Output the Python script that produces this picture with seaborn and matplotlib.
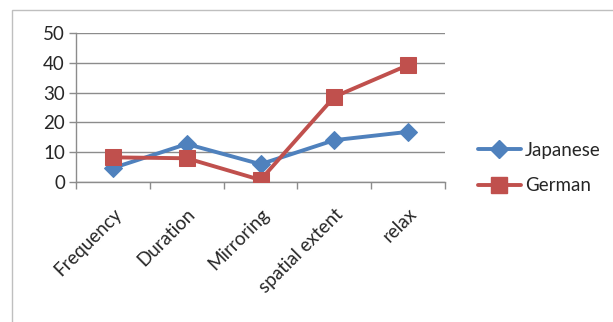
import matplotlib
matplotlib.use("Agg")
import matplotlib.pyplot as plt
import seaborn as sns
import pandas as pd
from matplotlib.patches import Rectangle
from matplotlib.lines import Line2D
from matplotlib.transforms import ScaledTranslation

categories = ["Frequency", "Duration", "Mirroring", "spatial extent", "relax"]
japanese = [4.6, 12.7, 5.9, 14.0, 16.8]
german = [8.2, 7.9, 0.6, 28.6, 39.3]
series_names = ["Japanese", "German"]
y_ticks = [0, 10, 20, 30, 40, 50]

colors = {"Japanese": "#4F81BD", "German": "#C0504D"}
markers = {"Japanese": "D", "German": "s"}
msize = {"Japanese": 9.5, "German": 11}

df = pd.DataFrame({
    "category": categories * 2,
    "pos": list(range(len(categories))) * 2,
    "value": japanese + german,
    "series": ["Japanese"] * len(categories) + ["German"] * len(categories),
})

sns.set_theme(style="white")
plt.rcParams["font.family"] = ["Lato", "DejaVu Sans"]

fig = plt.figure(figsize=(6.13, 3.22), dpi=100)
ax = fig.add_axes([0.124, 0.4357, 0.602, 0.4609])

# chart frame
fig.patches.append(Rectangle((12 / 613, -0.1), 1.2, 1 - 10 / 322 + 0.1,
                             transform=fig.transFigure, fill=False,
                             edgecolor="#BFBFBF", linewidth=1.0))

for name in series_names:
    sub = df[df["series"] == name]
    sns.lineplot(data=sub, x="pos", y="value", ax=ax, color=colors[name],
                 linewidth=2.8, marker=markers[name], markersize=msize[name],
                 markeredgecolor=colors[name], markerfacecolor=colors[name],
                 legend=False, zorder=3)

ax.set_xlim(-0.5, len(categories) - 0.5)
ax.set_ylim(0, 50)
ax.set_yticks(y_ticks)
ax.set_yticklabels([str(t) for t in y_ticks], fontsize=13.5)
ax.yaxis.grid(True, color="#8C8C8C", linewidth=1.0)
ax.set_axisbelow(True)

ax.set_xticks(range(len(categories)))
ax.set_xticklabels(categories, rotation=45, ha="right", rotation_mode="anchor",
                   fontsize=13.5)
shift = ScaledTranslation(3 / 72, 0, fig.dpi_scale_trans)
for lbl in ax.get_xticklabels():
    lbl.set_transform(lbl.get_transform() + shift)
ax.set_xticks([i - 0.5 for i in range(len(categories) + 1)], minor=True)
ax.tick_params(axis="x", which="major", length=0, pad=17)
ax.tick_params(axis="x", which="minor", length=5, color="#8C8C8C", width=1,
               direction="out", bottom=True)
ax.tick_params(axis="y", length=5, color="#8C8C8C", width=1, direction="out",
               left=True, pad=3)
ax.set_xlabel("")
ax.set_ylabel("")

for side in ["top", "right"]:
    ax.spines[side].set_visible(False)
for side in ["left", "bottom"]:
    ax.spines[side].set_color("#8C8C8C")
    ax.spines[side].set_linewidth(1.0)

handles = [Line2D([], [], color=colors[n], linewidth=2.8, marker=markers[n],
                  markersize=msize[n], markerfacecolor=colors[n],
                  markeredgecolor=colors[n]) for n in series_names]
fig.legend(handles, series_names, loc="center left",
           bbox_to_anchor=(461 / 613, 1 - 168 / 322), frameon=False,
           fontsize=13.5, handlelength=2.3, handletextpad=0.2,
           labelspacing=1.0)

fig.savefig("out.png", dpi=100, facecolor="white")
